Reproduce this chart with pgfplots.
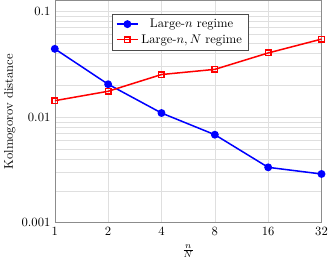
\documentclass[border=0pt]{standalone}
\usepackage{pgfplots}
\pgfplotsset{compat=1.18}
\begin{document}
\begin{tikzpicture}
\begin{axis}[
  scale only axis,
  width=211bp, height=176bp,
  xmode=log, log basis x=2, ymode=log,
  xmin=1, xmax=32, ymin=0.001, ymax=0.127,
  xtick={1,2,4,8,16,32},
  xticklabels={1,2,4,8,16,32},
  ytick={0.001,0.01,0.1},
  yticklabels={0.001,0.01,0.1},
  major tick length=0pt, minor tick length=0pt,
  axis line style={black!45},
  grid=both,
  major grid style={gray!25},
  minor grid style={gray!25},
  xminorgrids=false,
  xlabel={$\frac{n}{N}$},
  ylabel={Kolmogorov distance},
  ylabel style={yshift=-2pt},
  legend style={at={(0.47,0.94)},anchor=north,font=\normalsize,draw=black!70},
  legend cell align=center,
]
\addplot[blue, very thick, mark=*, mark size=2.5pt] coordinates {
(1,0.0441) (2,0.0204) (4,0.0109) (8,0.0068) (16,0.00334) (32,0.00289)};
\addlegendentry{Large-$n$ regime}
\addplot[red, very thick, mark=square, mark size=2.2pt, mark options={fill=white}] coordinates {
(1,0.01426) (2,0.0175) (4,0.0252) (8,0.0282) (16,0.0403) (32,0.0545)};
\addlegendentry{Large-$n,N$ regime}
\end{axis}
\end{tikzpicture}
\end{document}
